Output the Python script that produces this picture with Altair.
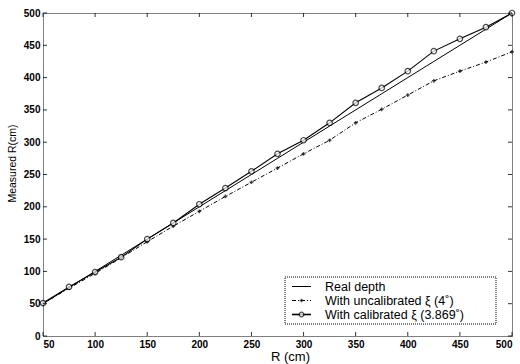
import altair as alt
import pandas as pd

R = [50, 75, 100, 125, 150, 175, 200, 225, 250, 275, 300, 325, 350, 375, 400, 425, 450, 475, 500]
real_depth = R[:]
uncalibrated = [50, 74, 97, 121, 146, 170, 193, 216, 238, 260, 282, 303, 330, 351, 373, 395, 410, 424, 440]
calibrated = [51, 76, 99, 122, 150, 175, 204, 229, 255, 282, 303, 330, 361, 384, 410, 441, 460, 478, 500]
series_names = ["Real depth", "With uncalibrated \u03be (4\u02da)", "With calibrated \u03be (3.869\u02da)"]
x_ticks = [50, 100, 150, 200, 250, 300, 350, 400, 450, 500]
y_ticks = [0, 50, 100, 150, 200, 250, 300, 350, 400, 450, 500]

W, H = 469, 323
FONT = "Liberation Sans"

df_real = pd.DataFrame({"R": R, "M": real_depth})
df_unc = pd.DataFrame({"R": R, "M": uncalibrated})
df_cal = pd.DataFrame({"R": R, "M": calibrated})

xs = alt.Scale(domain=[50, 500], nice=False, zero=False)
ys = alt.Scale(domain=[0, 500], nice=False, zero=False)

xax = alt.Axis(values=x_ticks, title="R (cm)", labelFont=FONT, labelFontSize=10, labelFontWeight="bold",
               titleFont=FONT, titleFontSize=13, titleFontWeight="normal",
               titleX=247, titleY=24, titleBaseline="alphabetic", titleAlign="center",
               labelOverlap=False, labelBound=False,
               tickSize=0, domain=False, grid=False, labelPadding=3, labelColor="black", titleColor="black")
yax = alt.Axis(values=y_ticks, title="Measured R(cm)", labelFont=FONT, labelFontSize=10, labelFontWeight="bold",
               titleFont=FONT, titleFontSize=10.5, titleFontWeight="normal",
               titleX=-26, titleY=150, titleAlign="center", titleBaseline="bottom", titleAngle=270,
               labelOverlap=False, labelBound=False,
               tickSize=0, domain=False, grid=False, labelPadding=3, labelColor="black", titleColor="black")


def X(field):
    return alt.X(field, scale=xs, axis=xax)


def Y(field):
    return alt.Y(field, scale=ys, axis=yax)


real = alt.Chart(df_real).mark_line(color="black", strokeWidth=1).encode(x=X("R:Q"), y=Y("M:Q"))

unc_line = alt.Chart(df_unc).mark_line(color="black", strokeWidth=1, strokeDash=[4, 2, 1, 2]).encode(
    x=X("R:Q"), y=Y("M:Q"))
unc_pts = alt.Chart(df_unc).mark_point(shape="cross", filled=True, color="black", size=14).encode(
    x=X("R:Q"), y=Y("M:Q"))

cal_line = alt.Chart(df_cal).mark_line(color="black", strokeWidth=1.1).encode(x=X("R:Q"), y=Y("M:Q"))
cal_pts = alt.Chart(df_cal).mark_point(shape="circle", filled=True, fill="white", stroke="black",
                                       strokeWidth=1.2, size=30).encode(x=X("R:Q"), y=Y("M:Q"))

# inward ticks on all four sides
dfx = pd.DataFrame({"t": x_ticks})
dfy = pd.DataFrame({"t": y_ticks})
tick_b = alt.Chart(dfx).mark_rule(color="black", strokeWidth=0.8).encode(
    x=X("t:Q"), y=alt.value(H), y2=alt.value(H - 4))
tick_t = alt.Chart(dfx).mark_rule(color="black", strokeWidth=0.8).encode(
    x=X("t:Q"), y=alt.value(0), y2=alt.value(4))
tick_l = alt.Chart(dfy).mark_rule(color="black", strokeWidth=0.8).encode(
    y=Y("t:Q"), x=alt.value(0), x2=alt.value(4))
tick_r = alt.Chart(dfy).mark_rule(color="black", strokeWidth=0.8).encode(
    y=Y("t:Q"), x=alt.value(W), x2=alt.value(W - 4))

# legend
one = pd.DataFrame({"a": [0]})
lx0, lx1, ly0, ly1 = 242, 453, 264, 311
box = alt.Chart(one).mark_rect(fill="white", stroke="black", strokeWidth=1, strokeDash=[1, 1]).encode(
    x=alt.value(lx0), x2=alt.value(lx1), y=alt.value(ly0), y2=alt.value(ly1))
rows = [273.5, 287.5, 301.5]
sx0, sx1, tx = 249, 268, 282
leg = []
leg.append(alt.Chart(one).mark_rule(color="black", strokeWidth=1).encode(
    x=alt.value(sx0), x2=alt.value(sx1), y=alt.value(rows[0])))
leg.append(alt.Chart(one).mark_rule(color="black", strokeWidth=1, strokeDash=[4, 2, 1, 2]).encode(
    x=alt.value(sx0), x2=alt.value(sx1), y=alt.value(rows[1])))
leg.append(alt.Chart(one).mark_point(shape="cross", filled=True, color="black", size=14).encode(
    x=alt.value((sx0 + sx1) / 2), y=alt.value(rows[1])))
leg.append(alt.Chart(one).mark_rule(color="black", strokeWidth=1.6).encode(
    x=alt.value(sx0), x2=alt.value(sx1), y=alt.value(rows[2])))
leg.append(alt.Chart(one).mark_point(shape="circle", filled=True, fill="white", stroke="black",
                                     strokeWidth=1.2, size=22).encode(
    x=alt.value((sx0 + sx1) / 2), y=alt.value(rows[2])))
for i, name in enumerate(series_names):
    leg.append(alt.Chart(pd.DataFrame({"label": [name]})).mark_text(
        align="left", baseline="middle", font=FONT, fontSize=12.5, color="black").encode(
        x=alt.value(tx), y=alt.value(rows[i]), text="label:N"))

chart = alt.layer(real, unc_line, cal_line, unc_pts, cal_pts, tick_b, tick_t, tick_l, tick_r, box, *leg).properties(
    width=W, height=H,
    autosize=alt.AutoSizeParams(type="none"),
    padding={"left": 43, "top": 13, "right": 6, "bottom": 28},
    background="white",
).configure_view(stroke="black", strokeWidth=1, strokeDash=[1, 1])

chart.save("out.html", embed_options={"renderer": "svg", "actions": False})
